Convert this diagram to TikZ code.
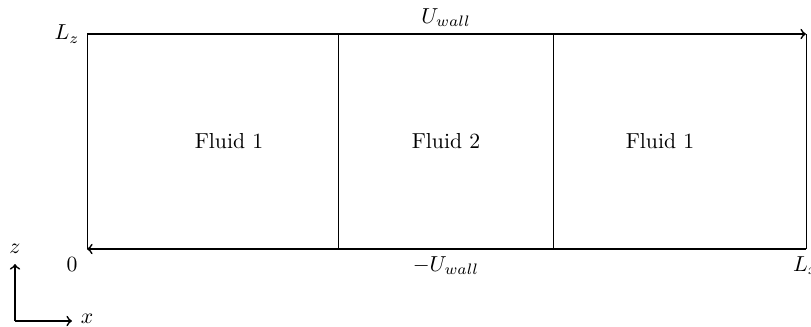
\documentclass[tikz,border=0pt]{standalone}
\usetikzlibrary{arrows}
\begin{document}
\begin{tikzpicture}[x=0.4608pt,y=-0.4608pt,
  wall/.style={thick,->},
  divider/.style={thin},
  axis/.style={thick,->},
  lbl/.style={font=\normalsize}]
\useasboundingbox (0,0) rectangle (811,326);
% corners
\coordinate (tl) at (87,34);
\coordinate (tr) at (806,34);
\coordinate (bl) at (87,249);
\coordinate (br) at (806,249);
\coordinate (d1t) at (338,34);
\coordinate (d1b) at (338,249);
\coordinate (d2t) at (553,34);
\coordinate (d2b) at (553,249);
% side walls and dividers
\draw[divider] (tl) -- (bl);
\draw[divider] (tr) -- (br);
\draw[divider] (d1t) -- (d1b);
\draw[divider] (d2t) -- (d2b);
% moving walls
\draw[wall] (tl) -- (tr);
\draw[wall] (br) -- (bl);
% labels
\node[lbl,left] (lz) at (tl) {$L_z$};
\node[lbl,above] (uw) at (446,34) {$U_{wall}$};
\node[lbl,below] (muw) at (446,249) {$-U_{wall}$};
\node[lbl] (zero) at (72,265) {$0$};
\node[lbl,below] (lx) at (br) {$L_x$};
\node[lbl] (f1) at (229,141) {Fluid 1};
\node[lbl] (f2) at (446,141) {Fluid 2};
\node[lbl] (f3) at (660,141) {Fluid 1};
% axes
\coordinate (o) at (15,321);
\coordinate (ztip) at (15,264);
\coordinate (xtip) at (72,321);
\draw[axis] (o) -- (ztip);
\draw[axis] (o) -- (xtip);
\node[lbl] (zl) at (15,249) {$z$};
\node[lbl] (xl) at (87,319) {$x$};
\end{tikzpicture}
\end{document}
